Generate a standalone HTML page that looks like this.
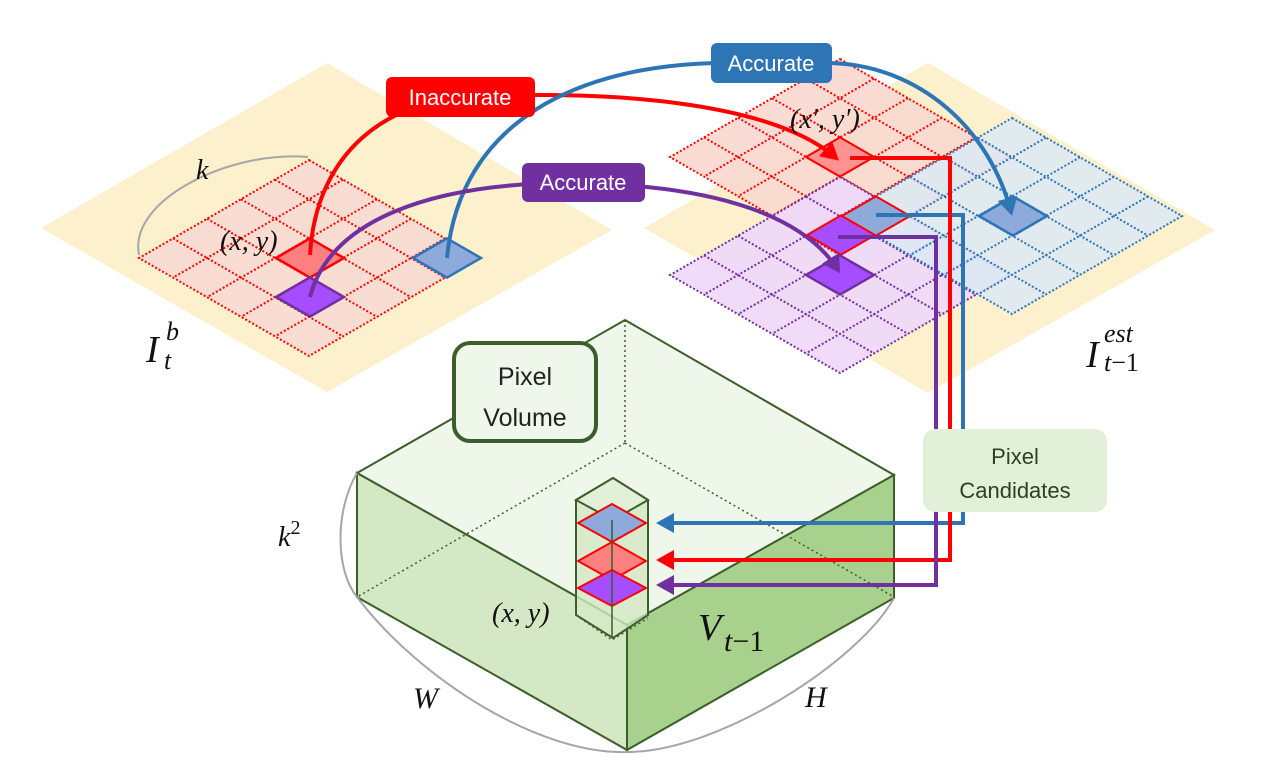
<!DOCTYPE html>
<html><head><meta charset="utf-8"><style>
html,body{margin:0;padding:0;background:#fff;}
svg{display:block;}
.m{font-family:"Liberation Serif",serif;font-style:italic;fill:#111;}
.l{font-family:"Liberation Sans",sans-serif;fill:#fff;font-size:22px;}
</style></head><body>
<svg width="1262" height="783" viewBox="0 0 1262 783" xmlns="http://www.w3.org/2000/svg">
<defs>
<marker id="ar" markerWidth="5" markerHeight="5" refX="3.5" refY="2.5" orient="auto" markerUnits="strokeWidth"><path d="M0,0 L4.5,2.5 L0,5 z" fill="#ff0000"/></marker>
<marker id="ab" markerWidth="5" markerHeight="5" refX="3.5" refY="2.5" orient="auto" markerUnits="strokeWidth"><path d="M0,0 L4.5,2.5 L0,5 z" fill="#2e75b6"/></marker>
<marker id="ap" markerWidth="5" markerHeight="5" refX="3.5" refY="2.5" orient="auto" markerUnits="strokeWidth"><path d="M0,0 L4.5,2.5 L0,5 z" fill="#7030a0"/></marker>
<g id="grid" stroke-width="2" stroke-dasharray="2,2">
<polygon points="309,160 479,258 309,356 139,258"/>
<line x1="275" y1="179.6" x2="445" y2="277.6"/><line x1="241" y1="199.2" x2="411" y2="297.2"/>
<line x1="207" y1="218.8" x2="377" y2="316.8"/><line x1="173" y1="238.4" x2="343" y2="336.4"/>
<line x1="343" y1="179.6" x2="173" y2="277.6"/><line x1="377" y1="199.2" x2="207" y2="297.2"/>
<line x1="411" y1="218.8" x2="241" y2="316.8"/><line x1="445" y1="238.4" x2="275" y2="336.4"/>
</g>
</defs>

<polygon points="41,228 327,63 612,230 327,392" fill="#fdf0cd"/>
<polygon points="644,228 928,63 1215,230 928,393" fill="#fdf0cd"/>

<use href="#grid" fill="#f9ddd2" stroke="#ff0000"/>
<path d="M139,255 C128,200 230,150 308,157" fill="none" stroke="#a6a6a6" stroke-width="2"/>
<polygon points="276,258 310,238.4 344,258 310,277.6" fill="#ff8080" stroke="#ff0000" stroke-width="2.5"/>
<polygon points="276,297 310,277.4 344,297 310,316.6" fill="#a64dff" stroke="#7030a0" stroke-width="2.5"/>
<polygon points="413,258 447,238.4 481,258 447,277.6" fill="#8eaadb" stroke="#2e75b6" stroke-width="2.5"/>

<use href="#grid" transform="translate(531,-101)" fill="#fad8cf" stroke="#ff0000" fill-opacity="0.9"/>
<use href="#grid" transform="translate(531,17)" fill="#efd9f8" stroke="#7030a0" fill-opacity="0.95"/>
<use href="#grid" transform="translate(703,-42)" fill="#dce9f5" stroke="#2e75b6" fill-opacity="0.85"/>
<polygon points="806,157 840,137.4 874,157 840,176.6" fill="#ff8080" fill-opacity="0.8" stroke="#ff0000" stroke-width="2"/>
<polygon points="807,235 841,215.4 875,235 841,254.6" fill="#a64dff" stroke="#ff0000" stroke-width="2"/>
<polygon points="842,216 876,196.4 910,216 876,235.6" fill="#8eaadb" stroke="#ff0000" stroke-width="2"/>
<polygon points="806,275 840,255.4 874,275 840,294.6" fill="#a64dff" stroke="#7030a0" stroke-width="2.5"/>
<polygon points="979,216 1013,196.4 1047,216 1013,235.6" fill="#8eaadb" stroke="#2e75b6" stroke-width="2.5"/>

<polygon points="625,320 894,475 627,625 357,473" fill="#eff6ea" stroke="#3b5e2b" stroke-width="2"/>
<polygon points="357,473 627,625 627,750 357,597" fill="#d5e8c5" stroke="#3b5e2b" stroke-width="2"/>
<polygon points="627,625 894,475 894,598 627,750" fill="#a9d18e" stroke="#3b5e2b" stroke-width="2"/>
<g stroke="#3b5e2b" stroke-width="1.5" stroke-dasharray="2,3" fill="none">
<line x1="625" y1="320" x2="625" y2="443"/>
<line x1="625" y1="443" x2="357" y2="597"/>
<line x1="625" y1="443" x2="894" y2="597"/>
</g>
<path d="M357,473 C335,510 335,570 357,597" fill="none" stroke="#a6a6a6" stroke-width="2"/>
<path d="M357,597 C420,680 540,755 627,752 C720,752 860,660 894,598" fill="none" stroke="#a6a6a6" stroke-width="2"/>

<polygon points="576,500 613,478 648,500 648,615 613,638 576,615" fill="#d5e8c5" fill-opacity="0.8" stroke="#3b5e2b" stroke-width="2"/>
<polygon points="576,500 613,478 648,500 613,520" fill="#e2f0d8" stroke="#3b5e2b" stroke-width="2"/>
<g stroke="#3b5e2b" stroke-width="1.5" stroke-dasharray="2,3" fill="none">
<polyline points="576,615 612,640 648,618"/>
</g>
<polygon points="578,523 612,504 646,523 612,542" fill="#8eaadb" stroke="#ff0000" stroke-width="2"/>
<polygon points="578,561 612,542 646,561 612,580" fill="#ff8080" stroke="#ff0000" stroke-width="2"/>
<polygon points="578,588 612,570 646,588 612,606" fill="#a64dff" stroke="#ff0000" stroke-width="2"/>
<line x1="612" y1="520" x2="612" y2="638" stroke="#3b5e2b" stroke-width="1.5"/>

<rect x="454" y="343" width="142" height="98" rx="16" fill="#eff6ea" stroke="#3b5e2b" stroke-width="4"/>
<text x="525" y="385" text-anchor="middle" font-family="Liberation Sans,sans-serif" font-size="25" fill="#222">Pixel</text>
<text x="525" y="426" text-anchor="middle" font-family="Liberation Sans,sans-serif" font-size="25" fill="#222">Volume</text>

<path d="M876,215 H963 V523 H660" fill="none" stroke="#2e75b6" stroke-width="4" marker-end="url(#ab)"/>
<path d="M850,158 H950 V560 H660" fill="none" stroke="#ff0000" stroke-width="4" marker-end="url(#ar)"/>
<path d="M838,237 H936 V585 H660" fill="none" stroke="#7030a0" stroke-width="4" marker-end="url(#ap)"/>
<rect x="923" y="429" width="184" height="83" rx="12" fill="#e2efd9"/>
<text x="1015" y="464" text-anchor="middle" font-family="Liberation Sans,sans-serif" font-size="22" fill="#2f3f26">Pixel</text>
<text x="1015" y="498" text-anchor="middle" font-family="Liberation Sans,sans-serif" font-size="22" fill="#2f3f26">Candidates</text>

<path d="M310,255 C316,150 390,100 470,97 C600,90 770,100 836,158" fill="none" stroke="#ff0000" stroke-width="4" marker-end="url(#ar)"/>
<path d="M447,258 C460,120 580,65 720,63 L830,63 C920,65 990,130 1011,212" fill="none" stroke="#2e75b6" stroke-width="4" marker-end="url(#ab)"/>
<path d="M310,297 C330,220 430,185 560,183 C700,183 800,210 838,270" fill="none" stroke="#7030a0" stroke-width="4" marker-end="url(#ap)"/>

<rect x="386" y="77" width="149" height="40" rx="6" fill="#ff0000"/>
<text x="460" y="105" text-anchor="middle" class="l">Inaccurate</text>
<rect x="711" y="43" width="121" height="40" rx="6" fill="#2e75b6"/>
<text x="771" y="71" text-anchor="middle" class="l">Accurate</text>
<rect x="522" y="163" width="123" height="39" rx="6" fill="#7030a0"/>
<text x="583" y="190" text-anchor="middle" class="l">Accurate</text>

<text x="196" y="179" class="m" font-size="28">k</text>
<text x="220" y="250" class="m" font-size="28" font-style="normal">(<tspan font-style="italic">x</tspan>, <tspan font-style="italic">y</tspan>)</text>
<text x="790" y="128" class="m" font-size="28" font-style="normal">(<tspan font-style="italic">x′</tspan>, <tspan font-style="italic">y′</tspan>)</text>
<text x="146" y="362" class="m" font-size="38">I</text>
<text x="166" y="340" class="m" font-size="26">b</text>
<text x="164" y="369" class="m" font-size="26">t</text>
<text x="1086" y="367" class="m" font-size="38">I</text>
<text x="1104" y="342" class="m" font-size="26">est</text>
<text x="1104" y="371" class="m" font-size="26">t<tspan font-style="normal">−1</tspan></text>
<text x="278" y="546" class="m" font-size="28">k<tspan font-style="normal" font-size="20" dy="-12">2</tspan></text>
<text x="492" y="622" class="m" font-size="28" font-style="normal">(<tspan font-style="italic">x</tspan>, <tspan font-style="italic">y</tspan>)</text>
<text x="698" y="640" class="m" font-size="38">V</text>
<text x="724" y="651" class="m" font-size="30">t<tspan font-style="normal">−1</tspan></text>
<text x="413" y="708" class="m" font-size="30">W</text>
<text x="805" y="707" class="m" font-size="30">H</text>
</svg>
</body></html>
